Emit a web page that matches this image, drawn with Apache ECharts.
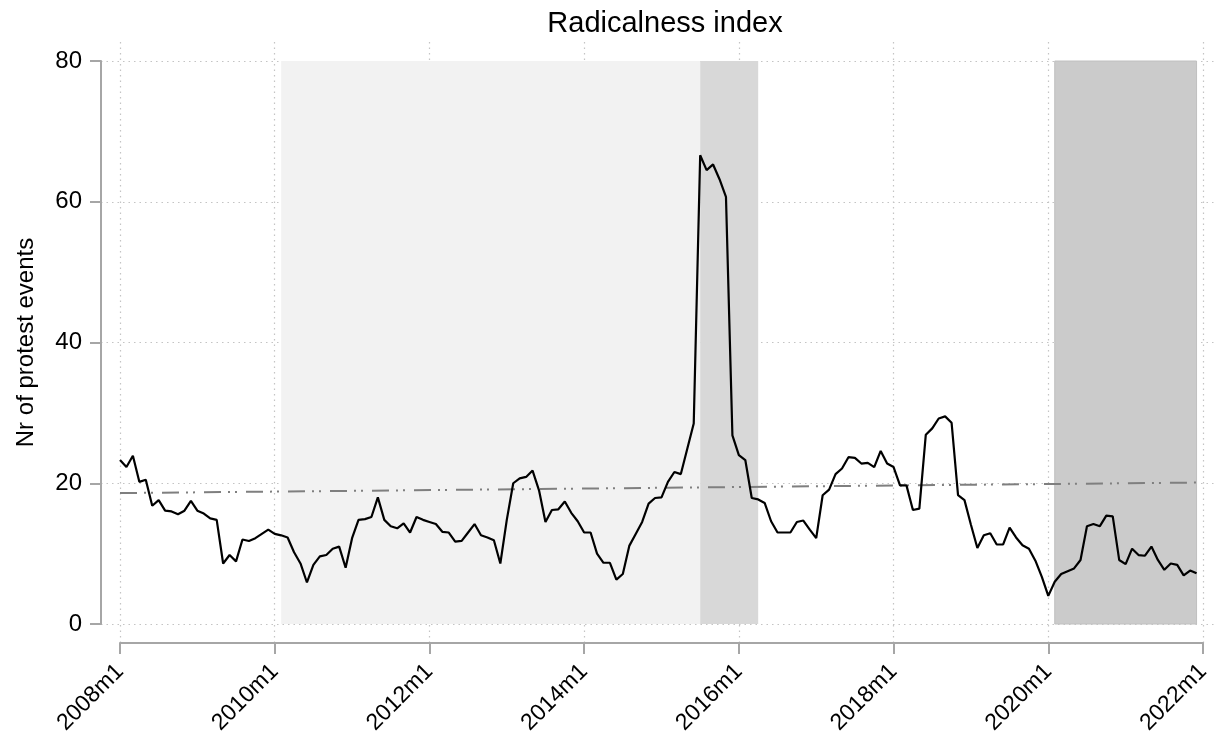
<!DOCTYPE html>
<html>
<head>
<meta charset="utf-8">
<script src="https://cdn.jsdelivr.net/npm/echarts@6/dist/echarts.min.js"></script>
<style>
  html, body { margin: 0; padding: 0; background: #fff; }
  #chart { width: 1217px; height: 733px; }
</style>
</head>
<body>
<div id="chart"></div>
<script>
// monthly index, 2008m1 = 0 ... 2021m12 = 167
var radicalness = [
  23.3, 22.3, 23.9, 20.2, 20.5, 16.8, 17.6, 16.1, 16.0, 15.6, 16.1, 17.5,
  16.1, 15.7, 15.0, 14.8, 8.6, 9.8, 8.9, 12.0, 11.8, 12.2, 12.8, 13.4,
  12.8, 12.6, 12.3, 10.2, 8.6, 5.9, 8.4, 9.6, 9.8, 10.7, 11.0, 8.0,
  12.2, 14.8, 14.9, 15.2, 18.0, 14.8, 13.9, 13.6, 14.3, 13.0, 15.2, 14.8,
  14.5, 14.2, 13.1, 13.0, 11.7, 11.8, 13.0, 14.2, 12.6, 12.3, 11.9, 8.6,
  14.8, 20.0, 20.7, 20.9, 21.8, 19.0, 14.5, 16.2, 16.3, 17.4, 15.8, 14.6,
  13.0, 13.0, 10.0, 8.7, 8.7, 6.3, 7.1, 11.1, 12.8, 14.5, 17.1, 17.9,
  18.0, 20.2, 21.6, 21.3, 24.9, 28.5, 66.6, 64.5, 65.3, 63.2, 60.7, 26.8,
  24.0, 23.3, 17.9, 17.7, 17.2, 14.6, 13.0, 13.0, 13.0, 14.5, 14.7, 13.4,
  12.2, 18.3, 19.1, 21.3, 22.1, 23.7, 23.6, 22.8, 22.9, 22.3, 24.6, 22.8,
  22.3, 19.7, 19.7, 16.2, 16.4, 26.9, 27.8, 29.2, 29.5, 28.6, 18.3, 17.6,
  14.1, 10.8, 12.6, 12.9, 11.3, 11.3, 13.7, 12.3, 11.2, 10.7, 9.0, 6.7,
  4.0, 6.0, 7.1, 7.5, 7.9, 9.1, 13.9, 14.2, 13.9, 15.4, 15.3, 9.1,
  8.5, 10.7, 9.8, 9.7, 11.0, 9.1, 7.7, 8.6, 8.4, 6.9, 7.6, 7.2
];

// linear trend, value at first and last month
var trendMonths = [0, 167];
var trendValues = [18.6, 20.1];

// shaded periods, [start month, end month]
var periodLight = [25, 90];
var periodMid = [90, 99];
var periodDark = [145, 167];

var yTicks = [0, 20, 40, 60, 80];

var lineData = radicalness.map(function (v, i) { return [i, v]; });
var trendData = trendMonths.map(function (m, i) { return [m, trendValues[i]]; });

var myChart = echarts.init(document.getElementById('chart'));

var font = 'Liberation Sans, Arial, sans-serif';
var axisGray = '#a6a6a6';
var gridDots = { show: true, lineStyle: { color: '#c4c4c4', type: [1.5, 4], width: 1.2 } };
var hidden = { show: false };

myChart.setOption({
  animation: false,
  backgroundColor: '#ffffff',
  title: {
    text: 'Radicalness index',
    left: 660,
    top: 4,
    textAlign: 'center',
    textStyle: { fontFamily: font, fontSize: 29, fontWeight: 'normal', color: '#000' }
  },
  grid: [
    // plot
    { left: 120, right: 14, top: 61, bottom: 109, containLabel: false, outerBoundsMode: 'none' },
    // vertical grid lines, full plot region
    { left: 120, right: 14, top: 42, bottom: 90, containLabel: false, outerBoundsMode: 'none' },
    // horizontal grid lines, full plot region
    { left: 101, right: 0, top: 61, bottom: 109, containLabel: false, outerBoundsMode: 'none' }
  ],
  xAxis: [
    {
      gridIndex: 0,
      type: 'value',
      min: 0,
      max: 168,
      interval: 24,
      offset: 19,
      axisLine: { show: true, onZero: false, lineStyle: { color: axisGray, width: 2 } },
      axisTick: { show: true, length: 11, lineStyle: { color: axisGray, width: 2 } },
      axisLabel: {
        rotate: 45,
        margin: 25,
        fontFamily: font,
        fontSize: 23,
        color: '#000',
        formatter: function (v) { return (2008 + v / 12) + 'm1'; }
      },
      splitLine: hidden
    },
    {
      gridIndex: 1, type: 'value', min: 0, max: 168, interval: 24,
      axisLine: hidden, axisTick: hidden, axisLabel: hidden, splitLine: gridDots
    },
    {
      gridIndex: 2, type: 'value', min: 0, max: 1, show: false
    }
  ],
  yAxis: [
    {
      gridIndex: 0,
      type: 'value',
      min: yTicks[0],
      max: yTicks[yTicks.length - 1],
      interval: 20,
      offset: 19,
      name: 'Nr of protest events',
      nameLocation: 'middle',
      nameGap: 63,
      nameTextStyle: { fontFamily: font, fontSize: 24, color: '#000' },
      axisLine: { show: true, onZero: false, lineStyle: { color: axisGray, width: 2 } },
      axisTick: { show: true, length: 11, lineStyle: { color: axisGray, width: 2 } },
      axisLabel: { fontFamily: font, fontSize: 24, color: '#000', margin: 19 },
      splitLine: hidden
    },
    {
      gridIndex: 1, type: 'value', min: 0, max: 1, show: false
    },
    {
      gridIndex: 2, type: 'value',
      min: yTicks[0], max: yTicks[yTicks.length - 1], interval: 20,
      axisLine: hidden, axisTick: hidden, axisLabel: hidden, splitLine: gridDots
    }
  ],
  series: [
    { name: 'vgrid', type: 'line', xAxisIndex: 1, yAxisIndex: 1, data: [], silent: true },
    { name: 'hgrid', type: 'line', xAxisIndex: 2, yAxisIndex: 2, data: [], silent: true },
    {
      name: 'shade',
      type: 'line',
      data: [],
      silent: true,
      markArea: {
        silent: true,
        data: [
          [{ xAxis: periodLight[0], itemStyle: { color: '#f2f2f2' } }, { xAxis: periodLight[1] }],
          [{ xAxis: periodMid[0], itemStyle: { color: '#d8d8d8' } }, { xAxis: periodMid[1] }],
          [{ xAxis: periodDark[0], itemStyle: { color: '#cbcbcb', borderColor: '#c0c0c0', borderWidth: 1 } }, { xAxis: periodDark[1] }]
        ]
      }
    },
    {
      name: 'trend',
      type: 'line',
      data: trendData,
      symbol: 'none',
      lineStyle: { color: '#7f7f7f', width: 2, type: [17, 7, 2, 5, 2, 9] },
      z: 3
    },
    {
      name: 'Radicalness index',
      type: 'line',
      data: lineData,
      symbol: 'none',
      lineStyle: { color: '#000', width: 2.2 },
      z: 4
    }
  ]
});
</script>
</body>
</html>
